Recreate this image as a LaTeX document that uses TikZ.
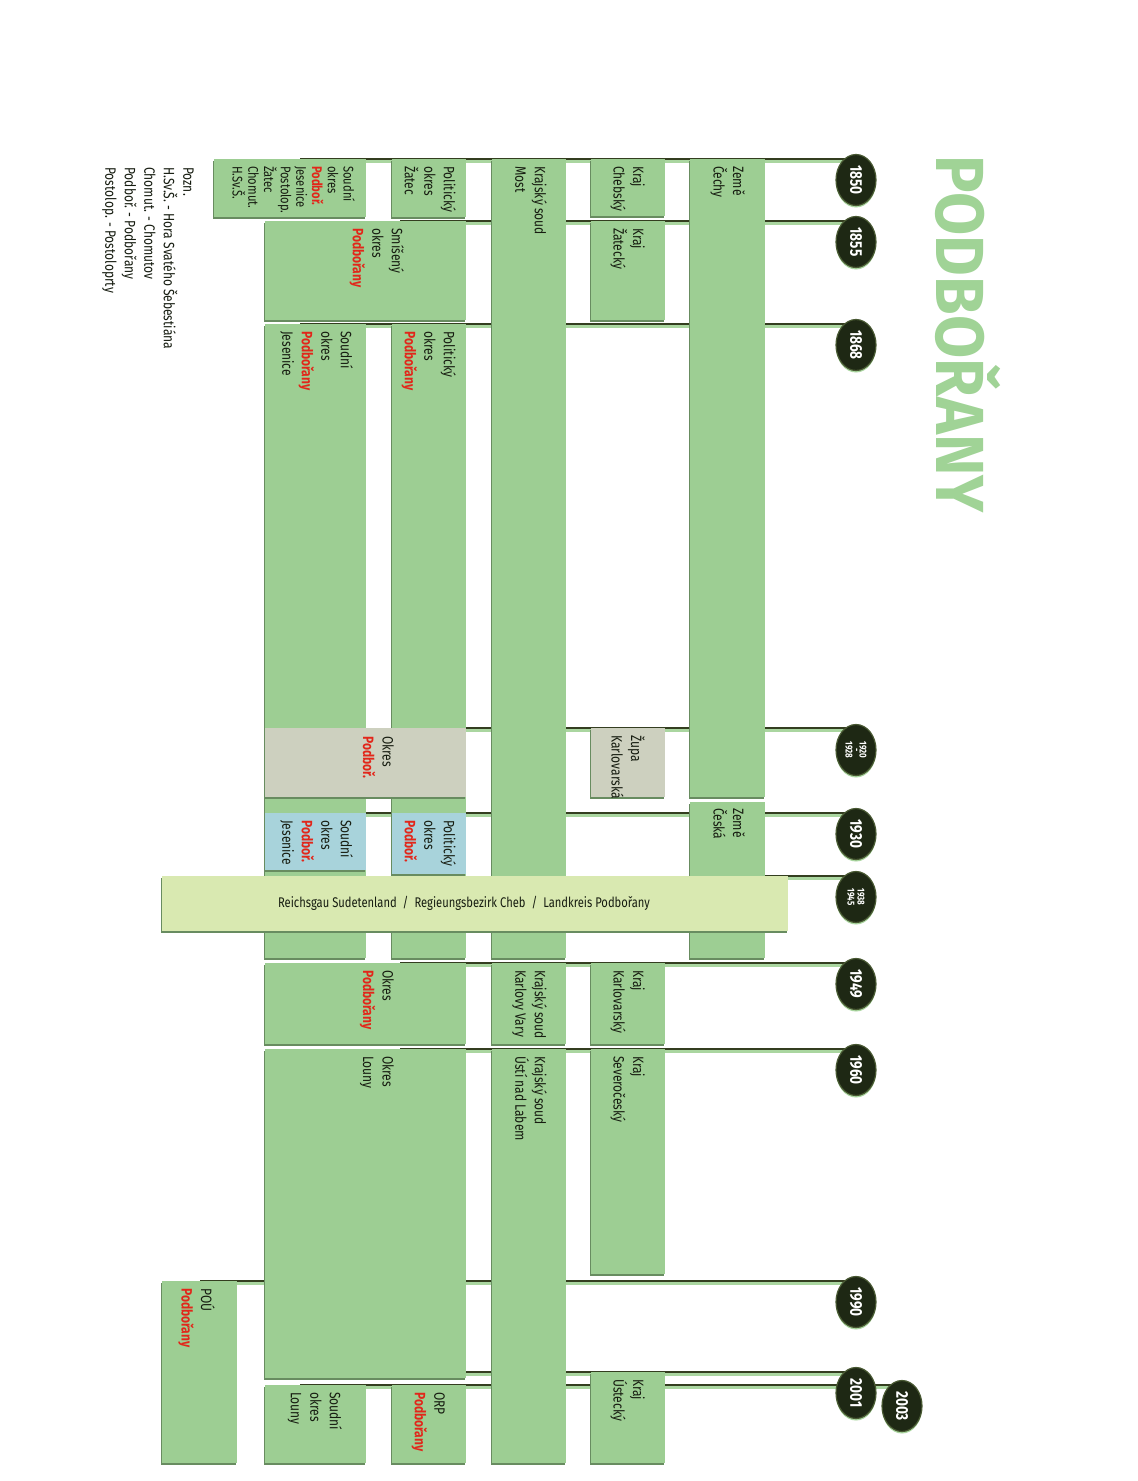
\documentclass[tikz,border=0pt]{standalone}
\usepackage{fontspec}
\setmainfont{Fira Sans}[FakeStretch=0.8]
\newfontfamily\titlefont{Fira Sans}[FakeStretch=0.92]
\usetikzlibrary{shapes.geometric}

\definecolor{boxgreen}{RGB}{157,206,147}
\definecolor{boxedge}{RGB}{104,140,96}
\definecolor{boxgray}{RGB}{205,208,191}
\definecolor{boxblue}{RGB}{168,211,219}
\definecolor{boxreich}{RGB}{217,233,177}
\definecolor{linedark}{RGB}{52,62,32}
\definecolor{glowgreen}{RGB}{170,214,160}
\definecolor{yeardark}{RGB}{30,40,20}
\definecolor{yearrim}{RGB}{72,88,50}
\definecolor{titlegreen}{RGB}{160,211,150}
\definecolor{textdark}{RGB}{22,28,16}
\definecolor{podred}{RGB}{226,38,26}

\newcommand{\redname}[1]{\textcolor{podred}{\bfseries #1}}

\pgfdeclarelayer{bg}
\pgfsetlayers{bg,main}

\tikzset{
  periodbox/.style={fill=boxgreen, preaction={fill=boxedge, transform canvas={shift={(-1.5pt,-1.5pt)}}}},
  graybox/.style={periodbox, fill=boxgray},
  bluebox/.style={periodbox, fill=boxblue},
  reichbox/.style={periodbox, fill=boxreich},
  lbl/.style={rotate=-90, anchor=north west, align=left, inner sep=0pt, text=textdark,
    font=\fontsize{15}{19.5}\selectfont},
  yearball/.style={ellipse, rotate=-90, minimum width=51pt, minimum height=40pt, inner sep=0pt,
    fill=yeardark, draw=yearrim, line width=1.2pt, text=white, align=center,
    font=\bfseries\fontsize{17}{17}\selectfont,
    preaction={fill=glowgreen, draw=none, transform canvas={yshift=-2pt}}},
  yearline/.style={draw=linedark, line width=2.5pt,
    preaction={draw=glowgreen, line width=3.5pt, transform canvas={yshift=-2.5pt}}}
}

\begin{document}
\begin{tikzpicture}[x=1pt, y=-1pt]
\useasboundingbox (0,0) rectangle (1138,1481);
\begin{pgfonlayer}{bg}
  \fill[white] (0,0) rectangle (1138,1481);
\end{pgfonlayer}

% title
\node[rotate=-90, anchor=base west, inner sep=0pt, text=titlegreen,
  font=\titlefont\bfseries\fontsize{68}{68}\selectfont] (title) at (936,155) {PODBOŘANY};

% 1850 - 1855
\fill[periodbox] (214,159) rectangle (366,217);
\fill[periodbox] (392,159) rectangle (466,217);
\fill[periodbox] (492,159) rectangle (566,958);
\fill[periodbox] (591,159) rectangle (665,216);
\fill[periodbox] (690,159) rectangle (765,797);
% 1855 - 1868
\fill[periodbox] (265,221) rectangle (466,320);
\fill[periodbox] (591,221) rectangle (665,320);
% 1868 - 1949
\fill[periodbox] (392,324) rectangle (466,958);
\fill[periodbox] (265,324) rectangle (366,958);
\fill[graybox] (265,728) rectangle (466,797);
\fill[graybox] (591,728) rectangle (665,797);
\fill[periodbox] (690,802) rectangle (765,958);
\fill[bluebox] (392,813) rectangle (466,874);
\fill[bluebox] (265,813) rectangle (366,870);
\fill[reichbox] (162,876) rectangle (788,931);
% 1949 - 1960
\fill[periodbox] (265,963) rectangle (466,1044);
\fill[periodbox] (492,963) rectangle (566,1044);
\fill[periodbox] (591,963) rectangle (665,1044);
% 1960 -
\fill[periodbox] (265,1049) rectangle (466,1378);
\fill[periodbox] (492,1049) rectangle (566,1463);
\fill[periodbox] (591,1049) rectangle (665,1274);
\fill[periodbox] (162,1281) rectangle (237,1463);
\fill[periodbox] (591,1372) rectangle (665,1463);
\fill[periodbox] (265,1385) rectangle (366,1463);
\fill[periodbox] (392,1385) rectangle (466,1463);

% labels
\node[lbl, font=\fontsize{14}{15.7}\selectfont] (soud1850) at (355,166)
  {Soudní\\okres\\\redname{Podboř.}\\Jesenice\\Postolop.\\Žatec\\Chomut.\\H.Sv.Š.};
\node[lbl] (pol1850) at (456,166) {Politický\\okres\\Žatec};
\node[lbl] (ksmost) at (547,166) {Krajský soud\\Most};
\node[lbl] (krajcheb) at (645,166) {Kraj\\Chebský};
\node[lbl] (zemecechy) at (745,166) {Země\\Čechy};
\node[lbl] (smiseny) at (404,228) {Smíšený\\okres\\\redname{Podbořany}};
\node[lbl] (krajzat) at (645,228) {Kraj\\Žatecký};
\node[lbl] (pol1868) at (456,331) {Politický\\okres\\\redname{Podbořany}};
\node[lbl] (soud1868) at (353,331) {Soudní\\okres\\\redname{Podbořany}\\Jesenice};
\node[lbl] (okres1920) at (394,736) {Okres\\\redname{Podboř.}};
\node[lbl] (zupa) at (645,735) {Župa\\Karlovarská};
\node[lbl] (zemeceska) at (745,808) {Země\\Česká};
\node[lbl] (pol1930) at (456,820) {Politický\\okres\\\redname{Podboř.}};
\node[lbl] (soud1930) at (353,820) {Soudní\\okres\\\redname{Podboř.}\\Jesenice};
\node[inner sep=0pt, text=textdark, font=\fontsize{14}{14}\selectfont] (reichsgau) at (464,903)
  {Reichsgau Sudetenland\ \ /\ \ Regieungsbezirk Cheb\ \ /\ \ Landkreis Podbořany};
\node[lbl] (okres1949) at (394,970) {Okres\\\redname{Podbořany}};
\node[lbl] (ksvary) at (547,970) {Krajský soud\\Karlovy Vary};
\node[lbl] (krajkv) at (645,970) {Kraj\\Karlovarský};
\node[lbl] (okreslouny) at (394,1056) {Okres\\Louny};
\node[lbl] (ksusti) at (547,1056) {Krajský soud\\Ústí nad Labem};
\node[lbl] (krajsc) at (645,1056) {Kraj\\Severočeský};
\node[lbl] (pou) at (215,1288) {POÚ\\\redname{Podbořany}};
\node[lbl] (krajust) at (645,1379) {Kraj\\Ústecký};
\node[lbl] (soudlouny) at (342,1392) {Soudní\\okres\\Louny};
\node[lbl] (orp) at (445,1392) {ORP\\\redname{Podbořany}};
\node[lbl] (pozn) at (194,167)
  {Pozn.\\H.Sv.Š. - Hora Svatého Šebestiána\\Chomut. - Chomutov\\Podboř. - Podbořany\\Postolop. - Postoloprty};

% years
\node[yearball] (y1850) at (856,180) {1850};
\node[yearball] (y1855) at (856,242) {1855};
\node[yearball] (y1868) at (856,345) {1868};
\node[yearball, font=\bfseries\fontsize{10}{6}\selectfont] (y1920) at (856,750) {1920\\-\\1928};
\node[yearball] (y1930) at (856,834) {1930};
\node[yearball, font=\bfseries\fontsize{10}{10}\selectfont] (y1938) at (856,897) {1938\\1945};
\node[yearball] (y1949) at (856,984) {1949};
\node[yearball] (y1960) at (856,1070) {1960};
\node[yearball] (y1990) at (856,1302) {1990};
\node[yearball] (y2001) at (856,1393) {2001};
\node[yearball] (y2003) at (902,1406) {2003};

% year lines
\foreach \yr/\ly/\lx in {1850/159/300, 1855/221/400, 1868/324/300, 1920/728/400,
  1930/813/300, 1938/876/700, 1949/963/400, 1960/1049/400, 1990/1281/200,
  2001/1372/400, 2003/1385/300}{
  \coordinate (s\yr) at (\lx,\ly);
  \begin{pgfonlayer}{bg}
    \draw[yearline] (s\yr) -- (s\yr -| y\yr.center);
  \end{pgfonlayer}
}
\end{tikzpicture}
\end{document}
